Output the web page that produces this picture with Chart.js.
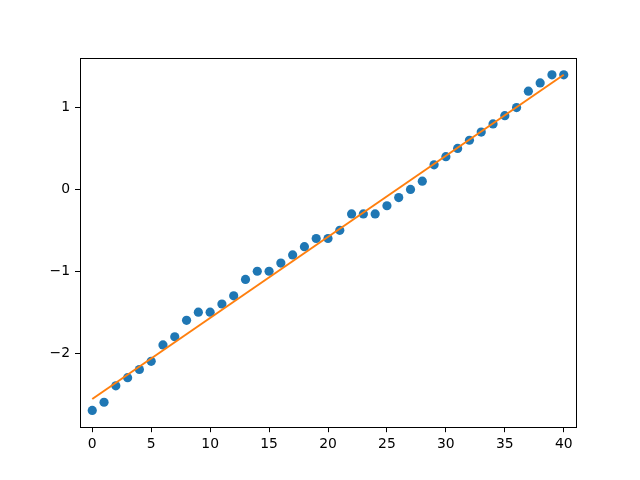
<!DOCTYPE html>
<html>
<head>
<meta charset="utf-8">
<script src="https://cdn.jsdelivr.net/npm/chart.js@4"></script>
<style>
  body { margin: 0; background: #fff; }
</style>
</head>
<body>
<canvas id="chart" width="640" height="480"></canvas>
<script>
// scatter values, x = 0..40
var xValues = [0, 1, 2, 3, 4, 5, 6, 7, 8, 9, 10, 11, 12, 13, 14, 15, 16, 17, 18, 19, 20,
               21, 22, 23, 24, 25, 26, 27, 28, 29, 30, 31, 32, 33, 34, 35, 36, 37, 38, 39, 40];
var yValues = [-2.7, -2.6, -2.4, -2.3, -2.2, -2.1, -1.9, -1.8, -1.6, -1.5, -1.5,
               -1.4, -1.3, -1.1, -1.0, -1.0, -0.9, -0.8, -0.7, -0.6, -0.6,
               -0.5, -0.3, -0.3, -0.3, -0.2, -0.1, 0.0, 0.1, 0.3, 0.4,
               0.5, 0.6, 0.7, 0.8, 0.9, 1.0, 1.2, 1.3, 1.4, 1.4];
// fitted line, end points
var lineX = [0, 40];
var lineY = [-2.56, 1.40];

var xTicks = [0, 5, 10, 15, 20, 25, 30, 35, 40];
var yTicks = [-2, -1, 0, 1];

var points = xValues.map(function (x, i) { return { x: x, y: yValues[i] }; });
var fit = lineX.map(function (x, i) { return { x: x, y: lineY[i] }; });

function minus(v) {
    return String(v).replace('-', '\u2212');
}

// black frame round the plot area, like the axes box
var frame = {
    id: 'frame',
    afterDatasetsDraw: function (chart) {
        var a = chart.chartArea, c = chart.ctx;
        c.save();
        c.strokeStyle = '#000';
        c.lineWidth = 1;
        c.strokeRect(Math.round(a.left) + 0.5, Math.round(a.top) + 0.5,
                     Math.round(a.right - a.left), Math.round(a.bottom - a.top));
        c.restore();
    }
};

var font = { family: 'DejaVu Sans', size: 13.9 };

new Chart(document.getElementById('chart'), {
    type: 'scatter',
    data: {
        datasets: [{
            type: 'line',
            data: fit,
            borderColor: '#ff7f0e',
            borderWidth: 2,
            pointRadius: 0,
            fill: false,
            order: 0
        }, {
            data: points,
            backgroundColor: '#1f77b4',
            borderColor: '#1f77b4',
            pointRadius: 4.6,
            pointHoverRadius: 4.6,
            borderWidth: 0,
            order: 1
        }]
    },
    options: {
        responsive: false,
        animation: false,
        devicePixelRatio: 1,
        layout: { padding: { top: 58, right: 64, left: 0, bottom: 0 } },
        plugins: { legend: { display: false }, tooltip: { enabled: false } },
        scales: {
            x: {
                min: -1.04,
                max: 41.04,
                afterFit: function (s) { s.height = 52.8; },
                afterBuildTicks: function (s) {
                    s.ticks = xTicks.map(function (v) { return { value: v }; });
                },
                ticks: { color: '#000', font: font, padding: 4, maxRotation: 0,
                         callback: function (v) { return minus(v); } },
                grid: { drawOnChartArea: false, drawTicks: true, tickLength: 5, color: '#000' },
                border: { display: true, color: '#000' }
            },
            y: {
                min: -2.905,
                max: 1.605,
                afterFit: function (s) { s.width = 80; },
                afterBuildTicks: function (s) {
                    s.ticks = yTicks.map(function (v) { return { value: v }; });
                },
                ticks: { color: '#000', font: font, padding: 5,
                         callback: function (v) { return minus(v); } },
                grid: { drawOnChartArea: false, drawTicks: true, tickLength: 5, color: '#000' },
                border: { display: true, color: '#000' }
            }
        }
    },
    plugins: [frame]
});
</script>
</body>
</html>
